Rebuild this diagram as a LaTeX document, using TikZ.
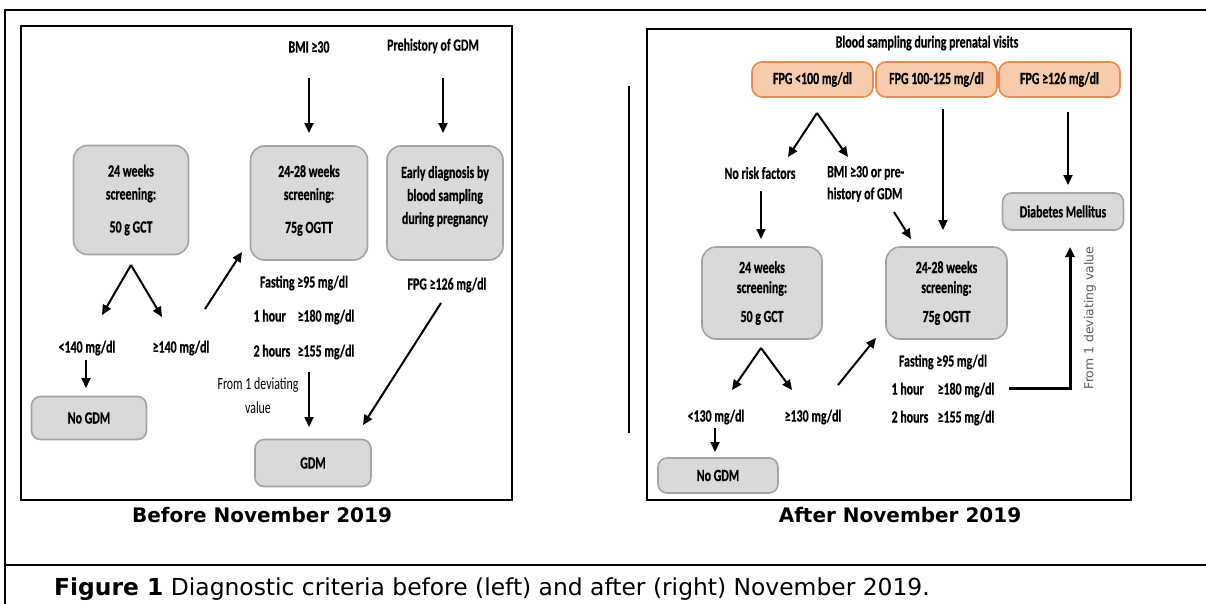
\documentclass[tikz,border=0pt]{standalone}
\usepackage{fontspec}
\usetikzlibrary{arrows.meta}
\newfontfamily\calfont[FakeStretch=0.7]{Carlito}
\newfontfamily\calbold[FakeStretch=0.7, FakeBold=0.6]{Carlito Bold}
\newfontfamily\dvfont{DejaVu Sans}
\definecolor{boxfill}{HTML}{D9D9D9}
\definecolor{boxline}{HTML}{A3A3A3}
\definecolor{ofill}{HTML}{F8CBAD}
\definecolor{oline}{HTML}{EA8A4C}
\definecolor{rottext}{HTML}{595959}
\newcommand{\dfont}{\calbold\fontsize{17}{23}\selectfont}
\tikzset{
  gbox/.style={draw=boxline, fill=boxfill, line width=1.6pt, rounded corners=14pt, align=center, font=\dfont, inner sep=0pt},
  sbox/.style={gbox, rounded corners=9pt},
  obox/.style={draw=oline, fill=ofill, line width=1.6pt, rounded corners=10pt, align=center, font=\dfont, inner sep=0pt, minimum width=121pt, minimum height=35pt},
  txt/.style={font=\dfont, inner sep=0pt},
  arr/.style={line width=2pt, -{Triangle[length=10pt,width=9pt]}},
  frame/.style={line width=1.6pt}
}
\begin{document}
\begin{tikzpicture}[x=1pt,y=-1pt]
\useasboundingbox (0,0) rectangle (1206,603);
\clip (0,0) rectangle (1206,603);
% outer frame
\draw[frame] (5,615) -- (5,10) -- (1215,10);
\draw[frame] (5,565) -- (1215,565);
% panels
\draw[frame] (21,26) rectangle (512,500);
\draw[frame] (647,29) rectangle (1131,500);
\draw[line width=1.2pt] (629,86) -- (629,433);

% ---------- LEFT PANEL ----------
\node[txt] (bmi) at (309,47) {BMI ≥30};
\node[txt] (prehist) at (433,46) {Prehistory of GDM};
\node[gbox, minimum width=115pt, minimum height=109pt] (gct1) at (131,200) {24 weeks\\screening:\\[10pt]50 g GCT};
\node[gbox, minimum width=117pt, minimum height=114pt] (ogtt1) at (309,203) {24-28 weeks\\screening:\\[10pt]75g OGTT\\[-15pt]\mbox{}};
\node[gbox, minimum width=116pt, minimum height=114pt] (early) at (445,203) {Early diagnosis by\\blood sampling\\during pregnancy\\[-7pt]\mbox{}};
\node[txt] (fast1) at (304,283) {Fasting ≥95 mg/dl};
\node[txt] (fpg1) at (447,285) {FPG ≥126 mg/dl};
\node[txt] (hr1a) at (304,317) {\makebox[44pt][l]{1 hour}≥180 mg/dl};
\node[txt] (hr1b) at (304,352) {\makebox[44pt][l]{2 hours}≥155 mg/dl};
\node[txt] (lt140) at (87,348) {<140 mg/dl};
\node[txt] (ge140) at (181,348) {≥140 mg/dl};
\node[sbox, minimum width=115pt, minimum height=43pt] (nogdm1) at (89,418) {No GDM};
\node[inner sep=0pt, align=center, font={\calfont\fontsize{17}{24}\selectfont}] (from1) at (258,396) {From 1 deviating\\value};
\node[sbox, minimum width=116pt, minimum height=47pt] (gdm) at (313,463) {GDM};

\coordinate (pkL) at (131,265);
\coordinate (pkLl) at (102,315);
\coordinate (pkLr) at (162,317);
\draw[arr] (pkL) -- (pkLl);
\draw[arr] (pkL) -- (pkLr);
\draw[arr] (bmi.south |- 0,78) -- (bmi.south |- 0,133);
\draw[arr] (443,78) coordinate (phs) -- (phs |- 0,133);
\draw[arr] (205,309) coordinate (g140) -- (242,252) coordinate (og1in);
\draw[arr] (86,360) coordinate (lt140s) -- (lt140s |- 0,388);
\draw[arr] (309,372) coordinate (devs) -- (devs |- 0,427);
\draw[arr] (441,303) coordinate (fpgs) -- (363,425) coordinate (gdmin);

% ---------- RIGHT PANEL ----------
\node[txt] (blood) at (927,43) {Blood sampling during prenatal visits};
\node[obox] (o1) at (812.5,79.5) {FPG <100 mg/dl};
\node[obox] (o2) at (936.5,79.5) {FPG 100-125 mg/dl};
\node[obox] (o3) at (1059.5,79.5) {FPG ≥126 mg/dl};
\node[txt] (norisk) at (760,173) {No risk factors};
\node[txt, anchor=west, align=left, font={\calbold\fontsize{17}{22}\selectfont}] (bmior) at (827,184) {BMI ≥30 or pre-\\history of GDM};
\node[sbox, minimum width=121pt, minimum height=37pt] (dm) at (1063,211.5) {Diabetes Mellitus};
\node[gbox, minimum width=120pt, minimum height=92pt, font={\calbold\fontsize{17}{20}\selectfont}] (gct2) at (762,293) {24 weeks\\screening:\\[9pt]50 g GCT};
\node[gbox, minimum width=121pt, minimum height=92pt, font={\calbold\fontsize{17}{20}\selectfont}] (ogtt2) at (946.5,293) {24-28 weeks\\screening:\\[9pt]75g OGTT};
\node[txt] (lt130) at (716,417) {<130 mg/dl};
\node[txt] (ge130) at (813,417) {≥130 mg/dl};
\node[sbox, minimum width=120pt, minimum height=35pt] (nogdm2) at (718,475.5) {No GDM};
\node[txt] (fast2) at (943,362) {Fasting ≥95 mg/dl};
\node[txt] (hr2a) at (943,390) {\makebox[46pt][l]{1 hour}≥180 mg/dl};
\node[txt] (hr2b) at (943,418) {\makebox[46pt][l]{2 hours}≥155 mg/dl};
\node[rotate=90, inner sep=0pt, text=rottext, font={\dvfont\fontsize{12.4}{14}\selectfont}] (from2) at (1090,318) {From 1 deviating value};

\coordinate (pkR) at (817,113);
\draw[arr] (pkR) -- (788,157);
\draw[arr] (pkR) -- (848,157);
\draw[arr] (761,191) coordinate (nrs) -- (nrs |- 0,239);
\draw[arr] (894,212) coordinate (bos) -- (911,239);
\draw[arr] (943,109) coordinate (o2s) -- (o2s |- 0,230);
\draw[arr] (1068,112) coordinate (o3s) -- (o3s |- 0,185);
\coordinate (pkR2) at (761,348);
\draw[arr] (pkR2) -- (732,390);
\draw[arr] (pkR2) -- (792,390);
\draw[arr] (838,385) coordinate (g130) -- (876,338);
\draw[arr] (715,428) coordinate (lt130s) -- (lt130s |- 0,452);
\draw[line width=3pt, -{Triangle[length=10pt,width=9pt]}] (1009,388) coordinate (elb) -- (1070,388) -- (1070,247);

% titles and caption
\node[inner sep=0pt, font={\dvfont\bfseries\fontsize{20}{24}\selectfont}] (t1) at (262,515) {Before November 2019};
\node[inner sep=0pt, font={\dvfont\bfseries\fontsize{20}{24}\selectfont}] (t2) at (900,515) {After November 2019};
\node[inner sep=0pt, anchor=base west, font={\dvfont\fontsize{23.4}{26}\selectfont}] (cap) at (54,595) {\textbf{Figure 1} Diagnostic criteria before (left) and after (right) November 2019.};
\end{tikzpicture}
\end{document}
